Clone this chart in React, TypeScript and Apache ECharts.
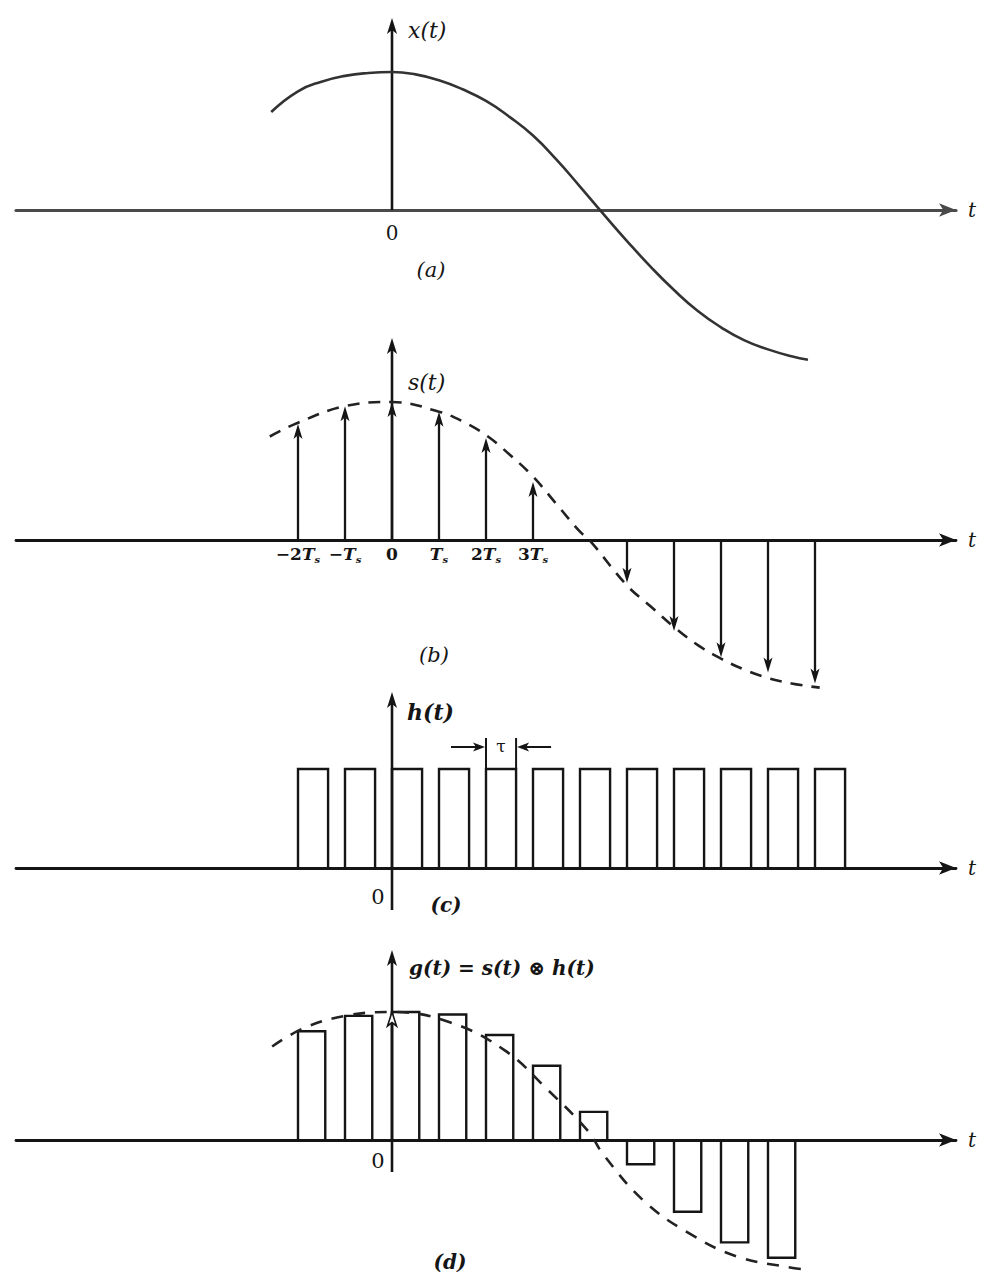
import { useEffect, useRef } from "react";
import * as echarts from "echarts";

// Time is measured in units of the sampling period Ts.
const TICK_VALUES = [-2, -1, 0, 1, 2, 3];

// (a) continuous signal x(t)
const X_T = [-2.57, -2.0, -1.5, -1.0, -0.5, 0, 0.5, 1.0, 1.5, 2.0, 2.5, 3.0, 3.5, 4.0, 4.5, 5.0, 5.5, 6.0, 6.5, 7.0, 7.5, 8.0, 8.5, 8.85];
const X_V = [0.71, 0.86, 0.93, 0.972, 0.993, 1.0, 0.983, 0.94, 0.875, 0.79, 0.675, 0.54, 0.365, 0.17, -0.03, -0.225, -0.41, -0.58, -0.73, -0.85, -0.945, -1.01, -1.06, -1.085];

// (b) ideal samples s(t) and their dashed envelope
const S_N = [-2, -1, 0, 1, 2, 3, 5, 6, 7, 8, 9];
const S_V = [0.84, 0.97, 1.0, 0.93, 0.74, 0.42, -0.31, -0.66, -0.85, -0.96, -1.04];
const ENV_B_T = [-2.6, -2, -1, 0, 1, 1.5, 2, 2.5, 3, 3.5, 4, 4.2, 5, 5.5, 6, 6.5, 7, 7.5, 8, 8.5, 9.1];
const ENV_B_V = [0.75, 0.85, 0.97, 1.0, 0.93, 0.86, 0.76, 0.62, 0.46, 0.26, 0.06, 0, -0.33, -0.48, -0.63, -0.76, -0.86, -0.94, -1.0, -1.04, -1.07];

// (c) rectangular pulse train h(t)
const H_N = [-2, -1, 0, 1, 2, 3, 4, 5, 6, 7, 8, 9];
const H_V = [1, 1, 1, 1, 1, 1, 1, 1, 1, 1, 1, 1];
const TAU_C = 0.64;

// (d) flat-top samples g(t) and their dashed envelope
const G_N = [-2, -1, 0, 1, 2, 3, 4, 5, 6, 7, 8];
const G_V = [0.85, 0.97, 1.0, 0.98, 0.82, 0.58, 0.22, -0.19, -0.56, -0.8, -0.92];
const TAU_D = 0.58;
const ENV_D_T = [-2.55, -1.9, -1, 0, 1.23, 2.4, 3.32, 4.17, 4.49, 5.34, 6.28, 7.34, 8.53, 8.75];
const ENV_D_V = [0.73, 0.87, 0.97, 1.0, 0.92, 0.7, 0.39, 0.07, -0.11, -0.47, -0.72, -0.91, -1.0, -1.01];

const SERIF = '"DejaVu Serif", "Liberation Serif", serif';
const INK = "#151515";

const LEFT = 16;
const RIGHT_PX = 956;
const T_MIN = -8;
const T_MAX = 12;

// vertical layout of the four panels (pixels): grid box, baseline, px per unit, vertical axis extent
const PANELS = [
  { top: 14, bottom: 372, base: 210, k: 138, axisLo: 210, axisHi: 18, axisColor: "#4a4a4a", axisWidth: 3.2 },
  { top: 330, bottom: 700, base: 540, k: 138, axisLo: 540, axisHi: 338, axisColor: INK, axisWidth: 2.8 },
  { top: 680, bottom: 920, base: 868, k: 99, axisLo: 910, axisHi: 692, axisColor: INK, axisWidth: 2.8 },
  { top: 940, bottom: 1278, base: 1140, k: 128, axisLo: 1172, axisHi: 950, axisColor: INK, axisWidth: 2.8 },
];
const toVal = (p: any, px: number) => (p.base - px) / p.k;

function makeArrowRenderer(headLen: number, headW: number, width: number, hollow = false) {
  return (_params: any, api: any) => {
    const a = api.coord([api.value(0), api.value(1)]);
    const b = api.coord([api.value(2), api.value(3)]);
    const dx = b[0] - a[0];
    const dy = b[1] - a[1];
    const len = Math.hypot(dx, dy) || 1;
    const ux = dx / len;
    const uy = dy / len;
    const base = [b[0] - ux * headLen, b[1] - uy * headLen];
    const notch = [b[0] - ux * headLen * 0.75, b[1] - uy * headLen * 0.75];
    const left = [base[0] - uy * headW, base[1] + ux * headW];
    const right = [base[0] + uy * headW, base[1] - ux * headW];
    return {
      type: "group",
      children: [
        {
          type: "line",
          shape: { x1: a[0], y1: a[1], x2: hollow ? b[0] : notch[0], y2: hollow ? b[1] : notch[1] },
          style: { stroke: INK, lineWidth: width },
        },
        {
          type: "polygon",
          shape: { points: [b, left, notch, right] },
          style: hollow ? { fill: "#fff", stroke: INK, lineWidth: 1.6 } : { fill: INK },
        },
      ],
    };
  };
}

function makePulseRenderer(tau: number) {
  return (_params: any, api: any) => {
    const t = api.value(0);
    const h = api.value(1);
    const pts = [api.coord([t, 0]), api.coord([t, h]), api.coord([t + tau, h]), api.coord([t + tau, 0])];
    return {
      type: "polyline",
      shape: { points: pts },
      style: { stroke: INK, lineWidth: 2.4, fill: "none", lineJoin: "miter" },
    };
  };
}

// width marker above one pulse: two ticks and two inward arrows
function tauRenderer(_params: any, api: any) {
  const t = api.value(0);
  const h = api.value(1);
  const l = api.coord([t, h]);
  const r = api.coord([t + TAU_C, h]);
  const tickH = 31;
  const ay = l[1] - 22;
  const head = (tipX: number, dir: number) => ({
    type: "polygon",
    shape: { points: [[tipX, ay], [tipX - dir * 12, ay - 4.5], [tipX - dir * 9, ay], [tipX - dir * 12, ay + 4.5]] },
    style: { fill: INK },
  });
  return {
    type: "group",
    children: [
      { type: "line", shape: { x1: l[0], y1: l[1], x2: l[0], y2: l[1] - tickH }, style: { stroke: INK, lineWidth: 2 } },
      { type: "line", shape: { x1: r[0], y1: r[1], x2: r[0], y2: r[1] - tickH }, style: { stroke: INK, lineWidth: 2 } },
      { type: "line", shape: { x1: l[0] - 35, y1: ay, x2: l[0] - 8, y2: ay }, style: { stroke: INK, lineWidth: 2 } },
      head(l[0] - 1, 1),
      { type: "line", shape: { x1: r[0] + 35, y1: ay, x2: r[0] + 8, y2: ay }, style: { stroke: INK, lineWidth: 2 } },
      head(r[0] + 1, -1),
      {
        type: "text",
        style: {
          text: "τ",
          x: (l[0] + r[0]) / 2,
          y: ay - 1,
          align: "center",
          verticalAlign: "middle",
          fontFamily: SERIF,
          fontSize: 17,
          fill: INK,
        },
      },
    ],
  };
}

// sample-instant labels under the axis of panel (b)
function tickLabel(v: number) {
  if (v === 0) return "{n|0}";
  const k = Math.abs(v);
  const sign = v < 0 ? "−" : "";
  const coef = k === 1 ? "" : String(k);
  return `{n|${sign}${coef}}{i|T}{s|s}`;
}

function tickRenderer(_params: any, api: any) {
  const v = api.value(0);
  const p = api.coord([v, 0]);
  return {
    type: "text",
    style: {
      text: tickLabel(v),
      x: p[0],
      y: p[1] + 14,
      align: "center",
      verticalAlign: "middle",
      rich: {
        n: { fontFamily: SERIF, fontWeight: "bold", fontSize: 17, fill: INK },
        i: { fontFamily: SERIF, fontWeight: "bold", fontStyle: "italic", fontSize: 17, fill: INK },
        s: { fontFamily: SERIF, fontWeight: "bold", fontStyle: "italic", fontSize: 10, fill: INK, padding: [10, 0, 0, 0] },
      },
    },
  };
}

function text(x: number, y: number, str: string, font: any) {
  return {
    type: "text",
    x,
    y,
    style: {
      text: str,
      fontFamily: SERIF,
      fill: INK,
      align: "left",
      verticalAlign: "middle",
      ...font,
    },
  };
}

export default function App() {
  const ref = useRef<HTMLDivElement>(null);

  useEffect(() => {
    document.body.style.margin = "0";
    const chart = echarts.init(ref.current!, null, { renderer: "svg" });

    const grid = PANELS.map((p) => ({ left: LEFT, width: RIGHT_PX - LEFT, top: p.top, height: p.bottom - p.top }));

    const xAxis = PANELS.map((p, i) => ({
      type: "value",
      gridIndex: i,
      min: T_MIN,
      max: T_MAX,
      axisLine: {
        show: true,
        onZero: true,
        symbol: ["none", "arrow"],
        symbolSize: [10, 17],
        lineStyle: { color: p.axisColor, width: p.axisWidth },
      },
      axisTick: { show: false },
      splitLine: { show: false },
      axisLabel: { show: false },
      name: "t",
      nameLocation: "end",
      nameGap: 12,
      nameTextStyle: { fontFamily: SERIF, fontStyle: "italic", fontSize: 20, color: INK },
    }));

    const yAxis = PANELS.map((p, i) => ({
      type: "value",
      gridIndex: i,
      min: toVal(p, p.bottom),
      max: toVal(p, p.top),
      show: false,
    }));

    const axisArrowSeries = PANELS.map((p, i) => ({
      type: "custom",
      xAxisIndex: i,
      yAxisIndex: i,
      clip: false,
      renderItem: makeArrowRenderer(16, 5, 2.6),
      encode: { x: [0, 2], y: [1, 3] },
      data: [[0, toVal(p, p.axisLo), 0, toVal(p, p.axisHi)]],
    }));

    const option: any = {
      animation: false,
      backgroundColor: "#ffffff",
      grid,
      xAxis,
      yAxis,
      series: [
        ...axisArrowSeries,
        {
          type: "line",
          xAxisIndex: 0,
          yAxisIndex: 0,
          smooth: 0.5,
          showSymbol: false,
          lineStyle: { color: "#333", width: 2.6 },
          data: X_T.map((t, i) => [t, X_V[i]]),
        },
        {
          type: "custom",
          xAxisIndex: 1,
          yAxisIndex: 1,
          clip: false,
          renderItem: makeArrowRenderer(15, 4.5, 2.3),
          encode: { x: [0, 2], y: [1, 3] },
          data: S_N.map((n, i) => [n, 0, n, S_V[i]]),
        },
        {
          type: "custom",
          xAxisIndex: 1,
          yAxisIndex: 1,
          clip: false,
          renderItem: tickRenderer,
          encode: { x: 0 },
          data: TICK_VALUES.map((v) => [v]),
        },
        {
          type: "line",
          xAxisIndex: 1,
          yAxisIndex: 1,
          smooth: 0.4,
          showSymbol: false,
          lineStyle: { color: "#222", width: 2.6, type: [12, 9] },
          data: ENV_B_T.map((t, i) => [t, ENV_B_V[i]]),
        },
        {
          type: "custom",
          xAxisIndex: 2,
          yAxisIndex: 2,
          clip: false,
          renderItem: makePulseRenderer(TAU_C),
          encode: { x: 0, y: 1 },
          data: H_N.map((n, i) => [n, H_V[i]]),
        },
        {
          type: "custom",
          xAxisIndex: 2,
          yAxisIndex: 2,
          clip: false,
          renderItem: tauRenderer,
          encode: { x: 0, y: 1 },
          data: [[H_N[4], H_V[4]]],
        },
        {
          type: "custom",
          xAxisIndex: 3,
          yAxisIndex: 3,
          clip: false,
          renderItem: makePulseRenderer(TAU_D),
          encode: { x: 0, y: 1 },
          data: G_N.map((n, i) => [n, G_V[i]]),
        },
        {
          type: "custom",
          xAxisIndex: 3,
          yAxisIndex: 3,
          clip: false,
          renderItem: makeArrowRenderer(14, 4.5, 2.2, true),
          encode: { x: [0, 2], y: [1, 3] },
          data: [[0, 0, 0, G_V[2]]],
        },
        {
          type: "line",
          xAxisIndex: 3,
          yAxisIndex: 3,
          smooth: 0.4,
          showSymbol: false,
          lineStyle: { color: "#222", width: 2.6, type: [12, 10] },
          data: ENV_D_T.map((t, i) => [t, ENV_D_V[i]]),
        },
      ],
      graphic: [
        text(408, 30, "x(t)", { fontStyle: "italic", fontSize: 22 }),
        text(392, 233, "0", { fontSize: 20, align: "center" }),
        text(431, 270, "(a)", { fontStyle: "italic", fontSize: 21, align: "center" }),
        text(408, 382, "s(t)", { fontStyle: "italic", fontSize: 22 }),
        text(434, 655, "(b)", { fontStyle: "italic", fontSize: 21, align: "center" }),
        text(407, 712, "h(t)", { fontStyle: "italic", fontWeight: "bold", fontSize: 22 }),
        text(378, 897, "0", { fontSize: 21, align: "center" }),
        text(446, 905, "(c)", { fontStyle: "italic", fontWeight: "bold", fontSize: 20, align: "center" }),
        text(409, 968, "g(t) = s(t) ⊗ h(t)", { fontStyle: "italic", fontWeight: "bold", fontSize: 20 }),
        text(378, 1161, "0", { fontSize: 21, align: "center" }),
        text(450, 1262, "(d)", { fontStyle: "italic", fontWeight: "bold", fontSize: 20, align: "center" }),
      ],
    };

    chart.setOption(option);
    return () => chart.dispose();
  }, []);

  return <div ref={ref} style={{ width: 984, height: 1281 }} />;
}
